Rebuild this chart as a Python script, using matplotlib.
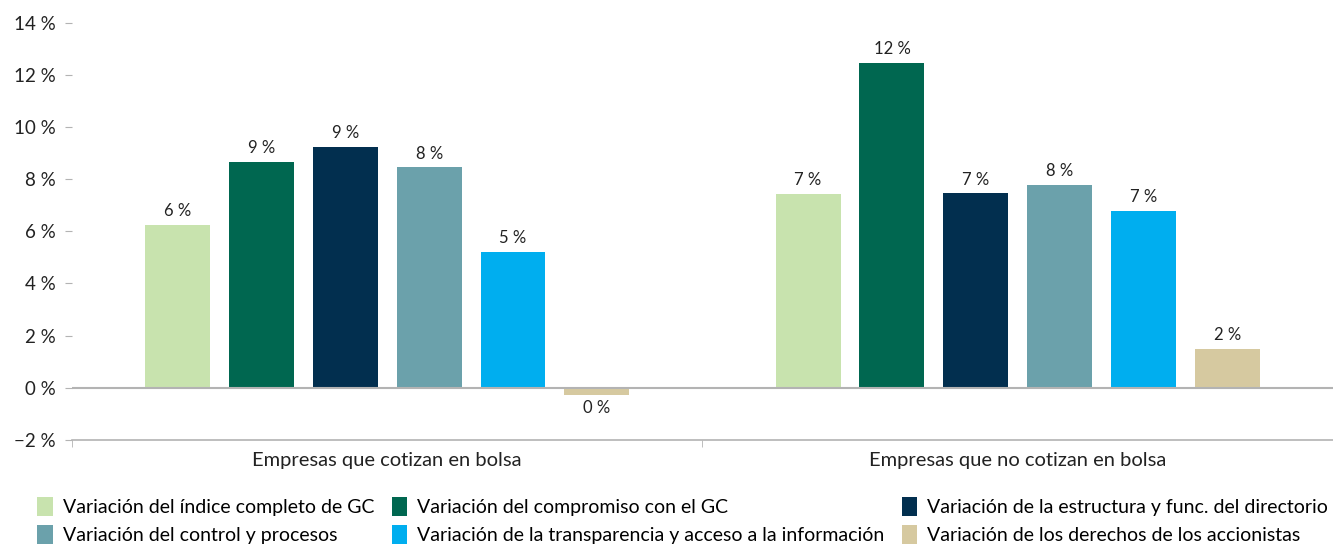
import numpy as np
import matplotlib
matplotlib.use('Agg')
import matplotlib.pyplot as plt

plt.rcParams['font.family'] = ['Lato', 'DejaVu Sans']

groups = ['Empresas que cotizan en bolsa', 'Empresas que no cotizan en bolsa']
series = [
    'Variación del índice completo de GC',
    'Variación del compromiso con el GC',
    'Variación de la estructura y func. del directorio',
    'Variación del control y procesos',
    'Variación de la transparencia y acceso a la información',
    'Variación de los derechos de los accionistas',
]
# values per series: [cotizan, no cotizan]
values = [
    [6.25, 7.44],
    [8.67, 12.47],
    [9.24, 7.46],
    [8.46, 7.79],
    [5.22, 6.79],
    [-0.27, 1.50],
]
colors = ['#C8E3AE', '#006750', '#022F4F', '#6BA1AB', '#00AEEF', '#D6C9A0']
yticks = [-2, 0, 2, 4, 6, 8, 10, 12, 14]

fig = plt.figure(figsize=(13.33, 5.45), dpi=100)
ax = fig.add_axes([0.054, 0.193, 0.946, 0.765])

x = np.arange(len(groups))
slot = 0.133
width = 0.103
handles = []
for i, (name, vals) in enumerate(zip(series, values)):
    pos = x + (i - 2.5) * slot
    bars = ax.bar(pos, vals, width, color=colors[i], label=name, zorder=2)
    ax.bar_label(bars, labels=[f'{round(v):.0f} %' for v in vals],
                 padding=4, fontsize=12, color='#222222')
    handles.append(bars)

ax.axhline(0, color='#b3b3b3', lw=1.5, zorder=3)
ax.set_ylim(-2, 14)
ax.set_xlim(-0.5, 1.5)
ax.set_yticks(yticks)
ax.set_yticklabels([f'{t} %'.replace('-', '\u2212') for t in yticks], fontsize=13.5, color='#222222')
ax.tick_params(axis='y', length=5, color='#b3b3b3', pad=7)

ax.set_xticks(x)
ax.set_xticklabels(groups, fontsize=14.5, color='#222222')
ax.tick_params(axis='x', which='major', length=0, pad=9)
ax.set_xticks([-0.5, 0.5, 1.5], minor=True)
ax.tick_params(axis='x', which='minor', length=5, color='#b3b3b3')

for side in ['top', 'right', 'left']:
    ax.spines[side].set_visible(False)
ax.spines['bottom'].set_color('#b3b3b3')
ax.spines['bottom'].set_linewidth(1.2)

# legend fills column-first, reorder so rows read left to right
order = [0, 3, 1, 4, 2, 5]
fig.legend([handles[i] for i in order], [series[i] for i in order],
           ncol=3, loc='lower left', bbox_to_anchor=(0.015, -0.03),
           frameon=False, fontsize=14, handlelength=0.8, handleheight=1.1,
           handletextpad=0.5, columnspacing=0.9, labelspacing=0.45)

fig.savefig('out.png', dpi=100)
